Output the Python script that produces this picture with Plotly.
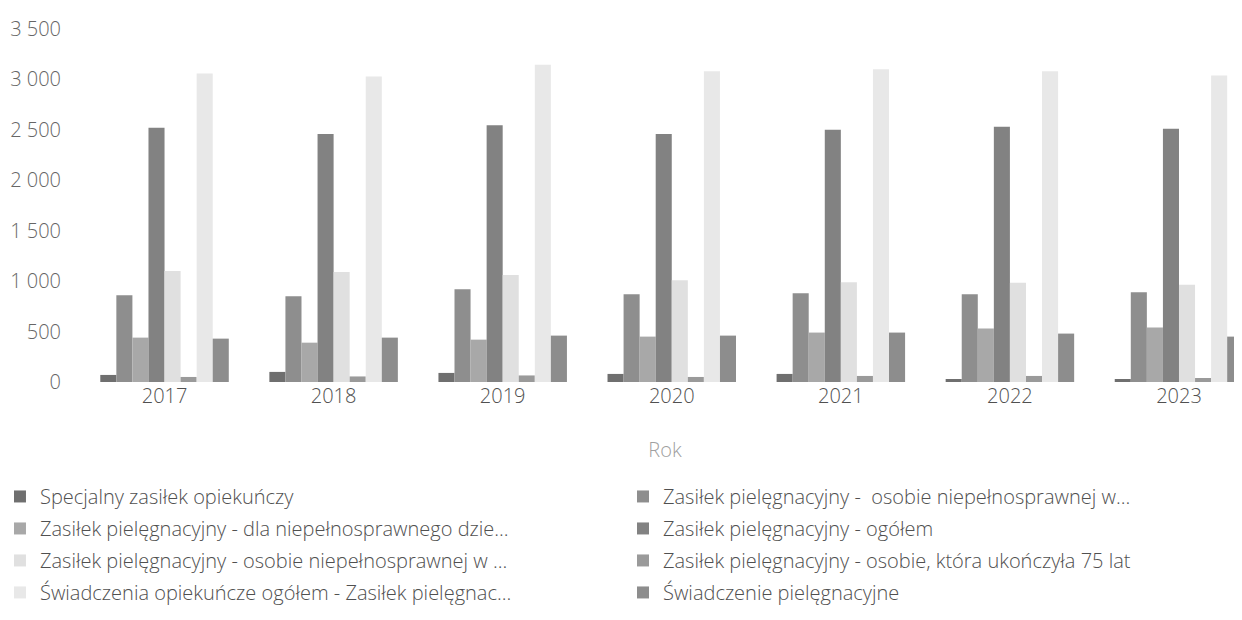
import plotly.graph_objects as go

# Lata
years = ["2017", "2018", "2019", "2020", "2021", "2022", "2023"]

# Wartości serii
specjalny = [70, 100, 90, 80, 80, 30, 30]
osobie_w_right = [860, 850, 920, 870, 880, 870, 890]
dla_dziecka = [440, 390, 420, 450, 490, 530, 540]
zasilek_ogolem = [2520, 2460, 2545, 2460, 2500, 2530, 2510]
osobie_w_left = [1100, 1090, 1060, 1010, 990, 985, 965]
osobie_75 = [50, 55, 65, 50, 60, 60, 40]
swiadczenia_ogolem = [3060, 3030, 3145, 3080, 3100, 3080, 3040]
swiadczenie_piel = [430, 440, 460, 460, 490, 480, 450]

# (nazwa, wartości, kolor, legenda)
series = [
    ("Specjalny zasiłek opiekuńczy", specjalny, "#6f6f6f", "legend"),
    ("Zasiłek pielęgnacyjny -  osobie niepełnosprawnej w...", osobie_w_right, "#8e8e8e", "legend2"),
    ("Zasiłek pielęgnacyjny - dla niepełnosprawnego dzie...", dla_dziecka, "#a8a8a8", "legend"),
    ("Zasiłek pielęgnacyjny - ogółem", zasilek_ogolem, "#828282", "legend2"),
    ("Zasiłek pielęgnacyjny - osobie niepełnosprawnej w ...", osobie_w_left, "#e0e0e0", "legend"),
    ("Zasiłek pielęgnacyjny - osobie, która ukończyła 75 lat", osobie_75, "#9a9a9a", "legend2"),
    ("Świadczenia opiekuńcze ogółem - Zasiłek pielęgnac...", swiadczenia_ogolem, "#e8e8e8", "legend"),
    ("Świadczenie pielęgnacyjne", swiadczenie_piel, "#8d8d8d", "legend2"),
]

fig = go.Figure()
for i, (name, vals, color, leg) in enumerate(series):
    fig.add_trace(go.Bar(
        x=years, y=vals, name=name, marker_color=color,
        marker_line_width=0, legend=leg, legendgroup=str(i)
    ))

legend_style = dict(
    orientation="v", yanchor="top", xanchor="left",
    font=dict(family="Open Sans", size=20, color="#505050", weight=300),
    traceorder="grouped", tracegroupgap=3, bgcolor="rgba(0,0,0,0)",
    itemclick=False,
)

fig.update_layout(
    width=1242, height=620,
    margin=dict(l=72, r=0, t=21, b=246, autoexpand=False),
    paper_bgcolor="white", plot_bgcolor="white",
    barmode="group", bargap=0.24, bargroupgap=0,
    separators=", ",
    font=dict(family="Open Sans", color="#666666", weight=300),
    xaxis=dict(
        type="category", range=[-0.5, 6.42],
        showgrid=False, showline=False, zeroline=False,
        tickfont=dict(size=20, color="#505050", weight=300), ticks="",
        title=dict(text="Rok", font=dict(size=20, color="#a0a0a0", weight=300), standoff=34),
    ),
    yaxis=dict(
        range=[0, 3500], dtick=500, tickformat=",d",
        showgrid=False, zeroline=False, showline=False,
        tickfont=dict(size=20, color="#666666", weight=300), ticks="",
        ticklabelstandoff=18,
    ),
    legend=dict(x=-0.0684, y=-0.269, **legend_style),
    legend2=dict(x=0.4641, y=-0.269, **legend_style),
)

fig.write_html("out.html")
